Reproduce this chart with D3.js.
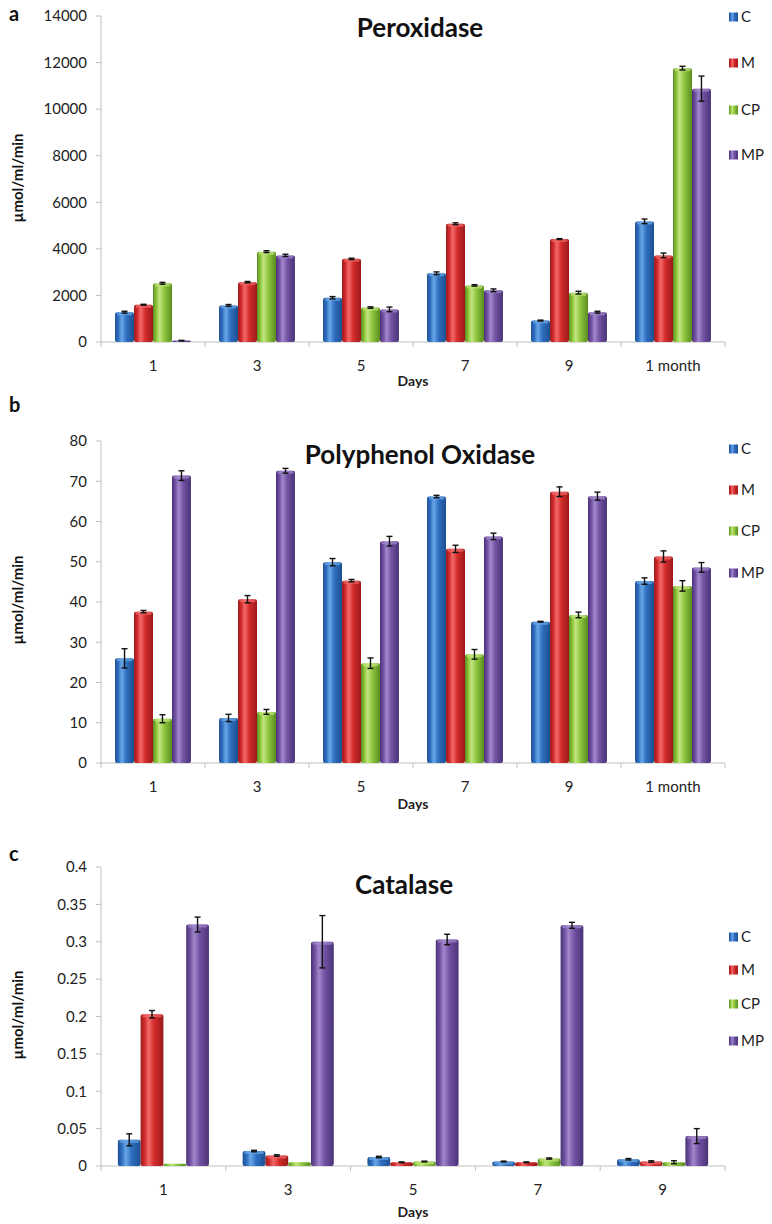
<!DOCTYPE html>
<html>
<head>
<meta charset="utf-8">
<script src="https://cdn.jsdelivr.net/npm/d3@7"></script>
<style>
  body { margin: 0; background: #fff; }
  svg { font-family: Lato, "Open Sans", sans-serif; }
</style>
</head>
<body>
<svg id="chart"></svg>
<script>
const width = 772;
const height = 1224;

const series = ["C", "M", "CP", "MP"];
const daysAB = ["1", "3", "5", "7", "9", "1 month"];
const daysC = ["1", "3", "5", "7", "9"];

// Peroxidase, one array per series, by day
const perC = [1280, 1570, 1900, 2950, 920, 5180];
const perM = [1600, 2570, 3570, 5080, 4420, 3720];
const perCP = [2520, 3880, 1480, 2430, 2120, 11760];
const perMP = [60, 3720, 1400, 2220, 1280, 10880];
const perErrC = [40, 40, 50, 60, 20, 100];
const perErrM = [20, 30, 30, 40, 20, 100];
const perErrCP = [40, 40, 30, 30, 60, 80];
const perErrMP = [10, 50, 100, 60, 40, 540];
const perTicks = [0, 2000, 4000, 6000, 8000, 10000, 12000, 14000];

// Polyphenol oxidase
const ppoC = [26.0, 11.2, 49.9, 66.2, 35.1, 45.2];
const ppoM = [37.6, 40.7, 45.3, 53.2, 67.4, 51.3];
const ppoCP = [11.0, 12.7, 24.8, 27.0, 36.8, 44.0];
const ppoMP = [71.4, 72.6, 55.1, 56.3, 66.3, 48.6];
const ppoErrC = [2.4, 0.9, 0.9, 0.3, 0.1, 0.8];
const ppoErrM = [0.3, 0.9, 0.3, 0.9, 1.2, 1.4];
const ppoErrCP = [1.0, 0.6, 1.3, 1.2, 0.7, 1.3];
const ppoErrMP = [1.2, 0.6, 1.2, 0.8, 1.0, 1.2];
const ppoTicks = [0, 10, 20, 30, 40, 50, 60, 70, 80];

// Catalase
const catC = [0.035, 0.02, 0.012, 0.006, 0.009];
const catM = [0.203, 0.014, 0.005, 0.005, 0.006];
const catCP = [0.003, 0.005, 0.006, 0.01, 0.005];
const catMP = [0.323, 0.3, 0.303, 0.322, 0.04];
const catErrC = [0.008, 0.001, 0.001, 0.0005, 0.001];
const catErrM = [0.005, 0.001, 0.0005, 0.0005, 0.001];
const catErrCP = [0, 0, 0.0005, 0.0008, 0.002];
const catErrMP = [0.01, 0.035, 0.007, 0.004, 0.01];
const catTicks = [0, 0.05, 0.1, 0.15, 0.2, 0.25, 0.3, 0.35, 0.4];

const colors = {
  C: { dark: "#1d4f91", base: "#2e6fc1", light: "#6aa6e6" },
  M: { dark: "#991a1a", base: "#d42b2b", light: "#f26a6a" },
  CP: { dark: "#5a8c1f", base: "#8cc63e", light: "#c2e67c" },
  MP: { dark: "#4a3275", base: "#7152a3", light: "#a287cc" }
};

const svg = d3.select("#chart").attr("width", width).attr("height", height);
const defs = svg.append("defs");

series.forEach(s => {
  const g = defs.append("linearGradient").attr("id", "grad-" + s)
    .attr("x1", "0%").attr("x2", "100%").attr("y1", "0%").attr("y2", "0%");
  g.append("stop").attr("offset", "0%").attr("stop-color", colors[s].dark);
  g.append("stop").attr("offset", "18%").attr("stop-color", colors[s].base);
  g.append("stop").attr("offset", "35%").attr("stop-color", colors[s].light);
  g.append("stop").attr("offset", "60%").attr("stop-color", colors[s].base);
  g.append("stop").attr("offset", "100%").attr("stop-color", colors[s].dark);
});

function drawPanel(p) {
  const g = svg.append("g");
  const x = d3.scaleBand().domain(p.days).range([101, 725]).paddingInner(0.27).paddingOuter(0.135);
  const xs = d3.scaleBand().domain(series).range([0, x.bandwidth()]);
  const y = d3.scaleLinear().domain([0, p.ticks[p.ticks.length - 1]]).range([p.y0, p.y1]);

  // axes
  g.append("line").attr("x1", 101).attr("x2", 101).attr("y1", y(p.ticks[p.ticks.length - 1])).attr("y2", p.y0)
    .attr("stroke", "#bfbfbf");
  g.append("line").attr("x1", 101).attr("x2", 725).attr("y1", p.y0).attr("y2", p.y0)
    .attr("stroke", "#bfbfbf");
  const step = x.step();
  g.selectAll(".xt").data(d3.range(p.days.length + 1)).enter().append("line")
    .attr("x1", i => 101 + i * step).attr("x2", i => 101 + i * step)
    .attr("y1", p.y0).attr("y2", p.y0 + 5).attr("stroke", "#bfbfbf");
  g.selectAll(".yt").data(p.ticks).enter().append("line")
    .attr("x1", 96).attr("x2", 101).attr("y1", d => y(d)).attr("y2", d => y(d)).attr("stroke", "#bfbfbf");
  g.selectAll(".yl").data(p.ticks).enter().append("text")
    .attr("x", 87).attr("y", d => y(d)).attr("dy", "0.35em").attr("text-anchor", "end")
    .attr("font-size", 15).attr("fill", "#222")
    .text(d => String(+d.toFixed(2)));
  g.selectAll(".xl").data(p.days).enter().append("text")
    .attr("x", d => x(d) + x.bandwidth() / 2).attr("y", p.y0 + 29).attr("text-anchor", "middle")
    .attr("font-size", 15).attr("fill", "#222").text(d => d);
  g.append("text").attr("x", 413).attr("y", p.y0 + p.daysDy).attr("text-anchor", "middle")
    .attr("font-size", 14).attr("font-weight", "bold").attr("fill", "#222").text("Days");

  // bars
  const rows = [];
  p.days.forEach((d, i) => {
    series.forEach((s, k) => {
      rows.push({ day: d, s: s, v: p.values[k][i], e: p.errors[k][i] });
    });
  });
  g.selectAll(".bar").data(rows).enter().append("rect")
    .attr("x", d => x(d.day) + xs(d.s))
    .attr("width", xs.bandwidth())
    .attr("y", d => y(d.v))
    .attr("height", d => p.y0 - y(d.v))
    .attr("rx", 2)
    .attr("fill", d => "url(#grad-" + d.s + ")");
  // top cap highlight
  g.selectAll(".cap").data(rows.filter(d => p.y0 - y(d.v) > 4)).enter().append("rect")
    .attr("x", d => x(d.day) + xs(d.s) + 1.5)
    .attr("width", xs.bandwidth() - 3)
    .attr("y", d => y(d.v))
    .attr("height", 3)
    .attr("rx", 1.5)
    .attr("fill", d => colors[d.s].light)
    .attr("opacity", 0.7);

  // error bars
  const eb = g.selectAll(".err").data(rows.filter(d => d.e > 0)).enter().append("g")
    .attr("stroke", "#111").attr("stroke-width", 1.4);
  const cx = d => x(d.day) + xs(d.s) + xs.bandwidth() / 2;
  eb.append("line").attr("x1", cx).attr("x2", cx).attr("y1", d => y(d.v + d.e)).attr("y2", d => y(d.v - d.e));
  eb.append("line").attr("x1", d => cx(d) - 3).attr("x2", d => cx(d) + 3)
    .attr("y1", d => y(d.v + d.e)).attr("y2", d => y(d.v + d.e));
  eb.append("line").attr("x1", d => cx(d) - 3).attr("x2", d => cx(d) + 3)
    .attr("y1", d => y(d.v - d.e)).attr("y2", d => y(d.v - d.e));

  // title
  g.append("text").attr("x", p.titleX).attr("y", p.titleY).attr("dy", "0.35em").attr("text-anchor", "middle")
    .attr("font-size", 26).attr("font-weight", "bold").attr("fill", "#111").text(p.title);

  // panel letter
  g.append("text").attr("x", 9).attr("y", p.letterY).attr("dy", "0.35em")
    .attr("font-size", 20).attr("font-weight", "bold").attr("fill", "#111").text(p.letter);

  // y title
  g.append("text").attr("transform", "translate(23," + p.ytitleY + ") rotate(-90)")
    .attr("text-anchor", "middle").attr("font-size", 15).attr("font-weight", "bold").attr("fill", "#111")
    .text("µmol/ml/min");

  // legend
  const lg = g.selectAll(".lg").data(series).enter().append("g")
    .attr("transform", (s, i) => "translate(729," + p.legendY[i] + ")");
  lg.append("rect").attr("x", 0).attr("y", -4.5).attr("width", 9).attr("height", 9)
    .attr("fill", s => "url(#grad-" + s + ")");
  lg.append("text").attr("x", 12).attr("dy", "0.35em").attr("font-size", 15).attr("fill", "#222").text(s => s);
}

drawPanel({
  days: daysAB, ticks: perTicks, y0: 342, y1: 16,
  values: [perC, perM, perCP, perMP], errors: [perErrC, perErrM, perErrCP, perErrMP],
  title: "Peroxidase", titleX: 420, titleY: 28, letter: "a", letterY: 14, ytitleY: 178,
  legendY: [17, 63, 110, 155], daysDy: 44
});
drawPanel({
  days: daysAB, ticks: ppoTicks, y0: 763, y1: 441,
  values: [ppoC, ppoM, ppoCP, ppoMP], errors: [ppoErrC, ppoErrM, ppoErrCP, ppoErrMP],
  title: "Polyphenol Oxidase", titleX: 420, titleY: 455, letter: "b", letterY: 405, ytitleY: 600,
  legendY: [449, 490, 531, 573], daysDy: 46
});
drawPanel({
  days: daysC, ticks: catTicks, y0: 1166, y1: 867,
  values: [catC, catM, catCP, catMP], errors: [catErrC, catErrM, catErrCP, catErrMP],
  title: "Catalase", titleX: 404, titleY: 885, letter: "c", letterY: 854, ytitleY: 1015,
  legendY: [937, 970, 1004, 1041], daysDy: 51
});
</script>
</body>
</html>
